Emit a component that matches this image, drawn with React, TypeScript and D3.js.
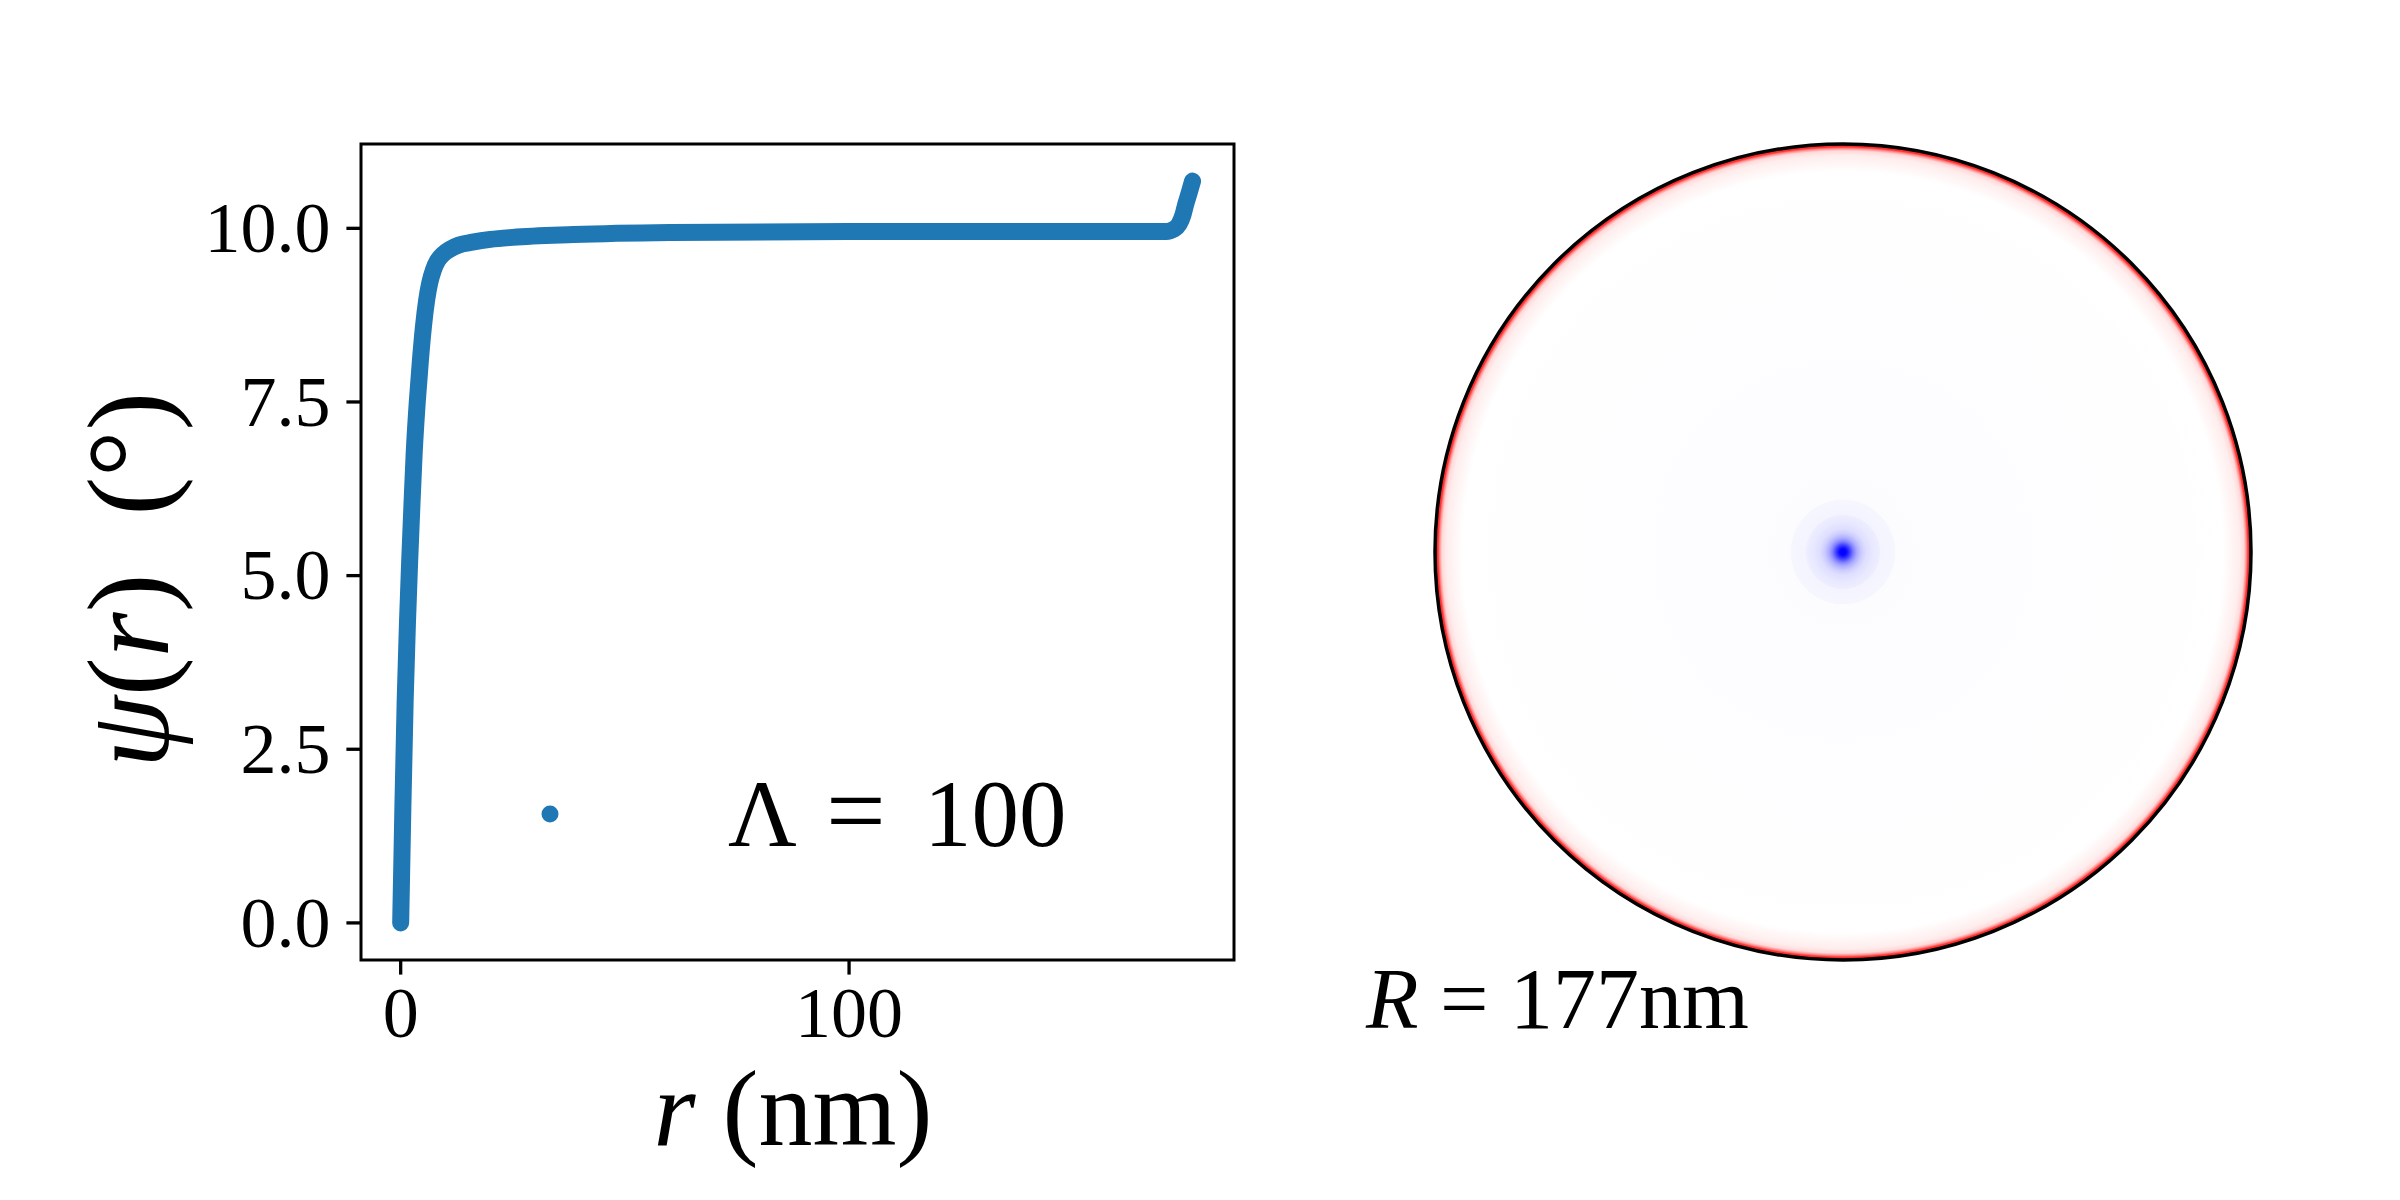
import React from "react";
import * as d3 from "d3";

// ---- Data ----
const rValues = [0, 0.5, 1, 1.5, 2, 2.5, 3, 3.7, 4.4, 5.1, 5.8, 6.5, 7.3, 8.2, 9.5, 11, 13, 16, 20, 25, 38.5, 60, 100, 150, 170.7, 172.5, 173.6, 174.5, 175.1, 175.9, 176.6];
const psiValues = [0, 1.7, 3.2, 4.3, 5.2, 6.0, 6.75, 7.5, 8.1, 8.6, 8.97, 9.22, 9.4, 9.53, 9.63, 9.7, 9.76, 9.8, 9.84, 9.87, 9.91, 9.94, 9.955, 9.955, 9.955, 9.99, 10.06, 10.2, 10.35, 10.52, 10.68];

const yTicks = [0, 2.5, 5, 7.5, 10];
const yTickLabels = ["0.0", "2.5", "5.0", "7.5", "10.0"];
const xTicks = [0, 100];
const xTickLabels = ["0", "100"];

const legendParts = ["Λ", "=", "100"];
const discRadiusNm = 177;

// radial profile of the disc image (bwr colour value, -1 blue .. 1 red)
const profileR = [0, 1.5, 3, 4.5, 6, 8, 10, 13, 16, 16.1, 22.6, 22.7, 60, 150, 165, 168, 172, 174, 175, 175.7, 177];
const profileV = [-1, -0.97, -0.75, -0.5, -0.33, -0.2, -0.13, -0.09, -0.065, -0.045, -0.035, -0.012, -0.008, -0.004, 0, 0.03, 0.07, 0.15, 0.45, 0.8, 0.9];

const SERIF = "'Liberation Serif', 'DejaVu Serif', serif";

export default function App() {
  const W = 2400;
  const H = 1200;
  const ax = { left: 361, right: 1234, top: 144, bottom: 960 };

  const pMax = d3.max(psiValues) as number;
  const ym = pMax * 0.05;
  const x = d3.scaleLinear().domain([0 - 8.85, 177 + 8.85]).range([ax.left, ax.right]);
  const y = d3.scaleLinear().domain([0 - ym, pMax + ym]).range([ax.bottom, ax.top]);

  const pts: [number, number][] = rValues.map((r, i) => [r, psiValues[i]]);
  const line = d3
    .line<[number, number]>()
    .x((d) => x(d[0]))
    .y((d) => y(d[1]))
    .curve(d3.curveMonotoneX);

  const blue = "#1f77b4";
  const tickLen = 14.6;
  const tickFs = 72;

  // disc
  const cx = 1843;
  const cy = 552;
  const discR = 408;
  const rScale = d3.scaleLinear().domain([0, discRadiusNm]).range([0, 1]);
  const bwr = d3.scaleLinear<string>().domain([-1, 0, 1]).range(["#0000ff", "#ffffff", "#ff0000"]);

  return (
    <svg
      width={W}
      height={H}
      viewBox={`0 0 ${W} ${H}`}
      style={{ position: "absolute", left: 0, top: 0, display: "block", background: "#fff" }}
    >
      <defs>
        <radialGradient id="disc" gradientUnits="userSpaceOnUse" cx={cx} cy={cy} r={discR}>
          {profileR.map((r, i) => (
            <stop key={i} offset={rScale(r)} stopColor={bwr(profileV[i])} />
          ))}
        </radialGradient>
      </defs>
      <rect x={0} y={0} width={W} height={H} fill="#fff" />

      {/* Left panel */}
      <path
        d={line(pts) || ""}
        fill="none"
        stroke={blue}
        strokeWidth={17}
        strokeLinecap="round"
        strokeLinejoin="round"
      />
      <rect
        x={ax.left}
        y={ax.top}
        width={ax.right - ax.left}
        height={ax.bottom - ax.top}
        fill="none"
        stroke="#000"
        strokeWidth={3}
      />
      {yTicks.map((t, i) => (
        <g key={"y" + i}>
          <line x1={ax.left - tickLen} x2={ax.left} y1={y(t)} y2={y(t)} stroke="#000" strokeWidth={3.3} />
          <text
            x={ax.left - tickLen - 16}
            y={y(t) + tickFs * 0.33}
            textAnchor="end"
            fontFamily={SERIF}
            fontSize={tickFs}
            fill="#000"
          >
            {yTickLabels[i]}
          </text>
        </g>
      ))}
      {xTicks.map((t, i) => (
        <g key={"x" + i}>
          <line x1={x(t)} x2={x(t)} y1={ax.bottom} y2={ax.bottom + tickLen} stroke="#000" strokeWidth={3.3} />
          <text
            x={x(t)}
            y={1037}
            textAnchor="middle"
            fontFamily={SERIF}
            fontSize={tickFs}
            fill="#000"
          >
            {xTickLabels[i]}
          </text>
        </g>
      ))}

      {/* x label */}
      <text x={793} y={1145} textAnchor="middle" fontFamily={SERIF} fontSize={108} fill="#000" xmlSpace="preserve">
        <tspan fontStyle="italic">r</tspan>
        <tspan> (nm)</tspan>
      </text>

      {/* y label */}
      <text
        transform={`translate(168, 580) rotate(-90)`}
        textAnchor="middle"
        fontFamily={SERIF}
        fontSize={116}
        fill="#000"
        xmlSpace="preserve"
      >
        <tspan fontStyle="italic">ψ</tspan>
        <tspan>(</tspan>
        <tspan fontStyle="italic">r</tspan>
        <tspan>)  (</tspan>
        <tspan>°</tspan>
        <tspan>)</tspan>
      </text>

      {/* legend */}
      <circle cx={550} cy={814} r={8.5} fill={blue} />
      <text y={846} fontFamily={SERIF} fontSize={95} fill="#000">
        <tspan x={728}>{legendParts[0]}</tspan>
        <tspan x={826} fontSize={106}>{legendParts[1]}</tspan>
        <tspan x={924}>{legendParts[2]}</tspan>
      </text>

      {/* Right panel: disc */}
      <circle cx={cx} cy={cy} r={discR} fill="url(#disc)" />
      <circle cx={cx} cy={cy} r={discR} fill="none" stroke="#000" strokeWidth={3.5} />

      <text x={1366} y={1028} fontFamily={SERIF} fontSize={86} fill="#000" xmlSpace="preserve">
        <tspan fontStyle="italic">R</tspan>
        <tspan>{` = ${discRadiusNm}nm`}</tspan>
      </text>
    </svg>
  );
}
